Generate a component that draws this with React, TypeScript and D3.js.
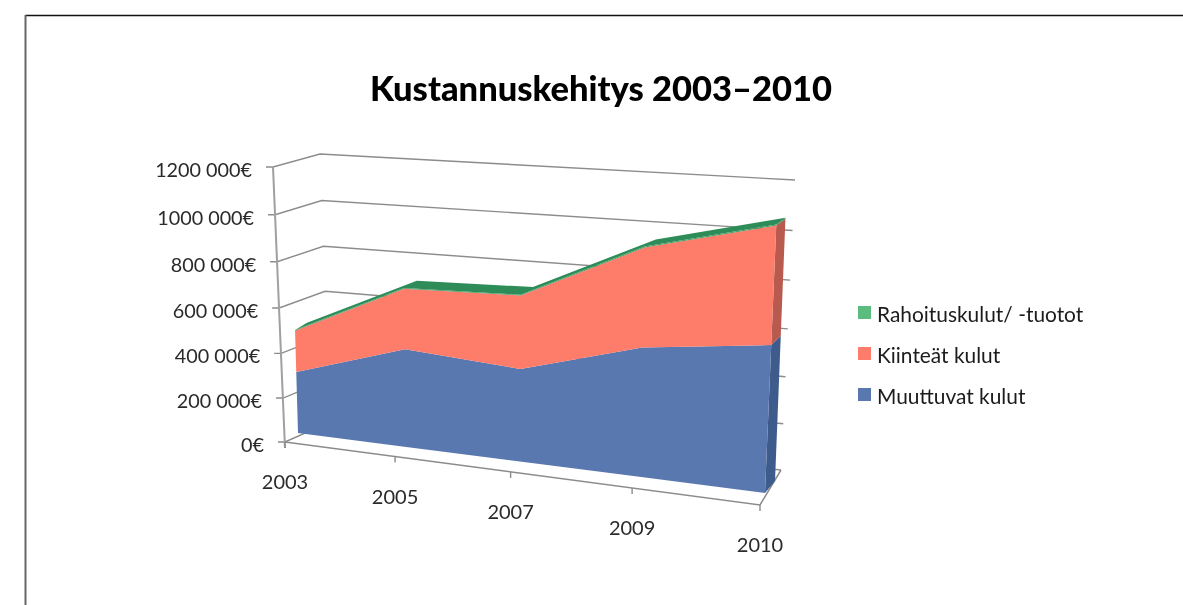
import React from "react";
import * as d3 from "d3";

const title = "Kustannuskehitys 2003–2010";
const categories = ["2003", "2005", "2007", "2009", "2010"];
const muuttuvat = [270000, 420000, 390000, 530000, 590000];
const kiinteat = [180000, 255000, 302000, 395000, 458000];
const rahoitus = [3000, 3000, 3000, 4000, 4000];
const yTicks = [0, 200000, 400000, 600000, 800000, 1000000, 1200000];
const yLabels = ["0€", "200 000€", "400 000€", "600 000€", "800 000€", "1000 000€", "1200 000€"];
const legendItems = [
  { name: "Rahoituskulut/ -tuotot", color: "#5cbb7e" },
  { name: "Kiinteät kulut", color: "#fd7b6c" },
  { name: "Muuttuvat kulut", color: "#5a78b0" },
];

type P = [number, number];
// projective map of the unit square onto a quad: bl, br, tr, tl
function homography(q: P[]) {
  const [[x0, y0], [x1, y1], [x2, y2], [x3, y3]] = q;
  const dx1 = x1 - x2, dx2 = x3 - x2, sx = x0 - x1 + x2 - x3;
  const dy1 = y1 - y2, dy2 = y3 - y2, sy = y0 - y1 + y2 - y3;
  const det = dx1 * dy2 - dx2 * dy1;
  const g = (sx * dy2 - dx2 * sy) / det;
  const h = (dx1 * sy - sx * dy1) / det;
  const a = x1 - x0 + g * x1, b = x3 - x0 + h * x3;
  const d = y1 - y0 + g * y1, e = y3 - y0 + h * y3;
  return (u: number, v: number): P => {
    const w = g * u + h * v + 1;
    return [(a * u + b * v + x0) / w, (d * u + e * v + y0) / w];
  };
}

const t = d3.scalePoint<string>().domain(categories).range([0, 1]);
const vs = d3.scaleLinear().domain([0, 1200000]).range([0, 1]);

const frontFace = homography([[298, 433], [765, 493], [778, 185], [290, 153]]);
const backFace = homography([[310, 425], [775, 481], [787, 179], [302, 147]]);
const axisFace = homography([[285, 442], [760, 505], [774, 203], [273, 167]]);
const backWall = homography([[330, 422], [781, 470], [795, 180], [320, 154]]);

const line = d3.line<P>().x((d) => d[0]).y((d) => d[1]);
const poly = (pts: P[]) => line(pts)! + "Z";

const cum1 = muuttuvat;
const cum2 = muuttuvat.map((d, i) => d + kiinteat[i]);
const cum3 = cum2.map((d, i) => d + rahoitus[i]);

const pts = (face: typeof frontFace, vals: number[]): P[] =>
  categories.map((c, i) => face(t(c)!, vs(vals[i])));

function band(lo: number[] | null, hi: number[]) {
  const top = pts(frontFace, hi);
  const bot = lo ? pts(frontFace, lo) : categories.map((c) => frontFace(t(c)!, 0));
  return poly([...top, ...bot.reverse()]);
}

function side(lo: number, hi: number) {
  return poly([frontFace(1, vs(lo)), backFace(1, vs(lo)), backFace(1, vs(hi)), frontFace(1, vs(hi))]);
}

const n = categories.length - 1;
const FONT = "Lato, 'Open Sans', sans-serif";

export default function App() {
  const topFront = pts(frontFace, cum3);
  const topBack = pts(backFace, cum3);
  return (
    <svg width={1183} height={605} style={{ position: "absolute", left: 0, top: 0, background: "#fff" }}>
      <defs>
        <filter id="soft" x="-5%" y="-5%" width="110%" height="110%">
          <feGaussianBlur stdDeviation="0.65" />
        </filter>
      </defs>
      <line x1={25} x2={1183} y1={15.5} y2={15.5} stroke="#111" strokeWidth={1.6} />
      <line x1={25.5} x2={25.5} y1={15} y2={605} stroke="#666" strokeWidth={2} />
      <g filter="url(#soft)">
        <text x={601} y={101} textAnchor="middle" fontFamily={FONT} fontWeight={900} fontSize={34.5} fill="#000">{title}</text>

        {yTicks.map((v, i) => {
          const a = axisFace(0, vs(v));
          const b = backWall(0, vs(v));
          const c = backWall(1, vs(v));
          return (
            <g key={v}>
              <path d={line([[a[0] - 7, a[1]], a, b, c])!} fill="none" stroke="#8c8c8c" strokeWidth={1.4} />
              <text x={a[0] - 21} y={a[1] + 10} textAnchor="end" fontFamily={FONT} fontSize={19.8} fill="#2a2a2a">{yLabels[i]}</text>
            </g>
          );
        })}
        <path d={line([axisFace(0, 1), [axisFace(0, 0)[0], axisFace(0, 0)[1] + 6]])!} fill="none" stroke="#a0a0a0" strokeWidth={2} />
        <path d={line([axisFace(0, 0), axisFace(1, 0), backWall(1, 0)])!} fill="none" stroke="#8c8c8c" strokeWidth={1.5} />
        {categories.map((c, i) => {
          const a = axisFace(i / n, 0);
          return (
            <g key={c}>
              <line x1={a[0]} x2={a[0]} y1={a[1]} y2={a[1] + 6} stroke="#8c8c8c" strokeWidth={1.4} />
              <text x={a[0]} y={a[1] + 47} textAnchor="middle" fontFamily={FONT} fontSize={20} fill="#2a2a2a">{c}</text>
            </g>
          );
        })}

        <path d={poly([...topFront, ...[...topBack].reverse()])} fill="#2f8c58" />
        <path d={side(0, cum1[n])} fill="#3c5c8c" />
        <path d={side(cum1[n], cum2[n])} fill="#b85a4e" />
        <path d={side(cum2[n], cum3[n])} fill="#2f8c58" />
        <path d={band(null, cum1)} fill="#5a78b0" />
        <path d={band(cum1, cum2)} fill="#fd7b6a" />
        <path d={band(cum2, cum3)} fill="#3d9a63" />

        {legendItems.map((d, i) => (
          <g key={d.name}>
            <rect x={858} y={306 + i * 41} width={13} height={13} fill={d.color} />
            <text x={877} y={322 + i * 41} fontFamily={FONT} fontSize={20.9} fill="#1a1a1a">{d.name}</text>
          </g>
        ))}
      </g>
    </svg>
  );
}
